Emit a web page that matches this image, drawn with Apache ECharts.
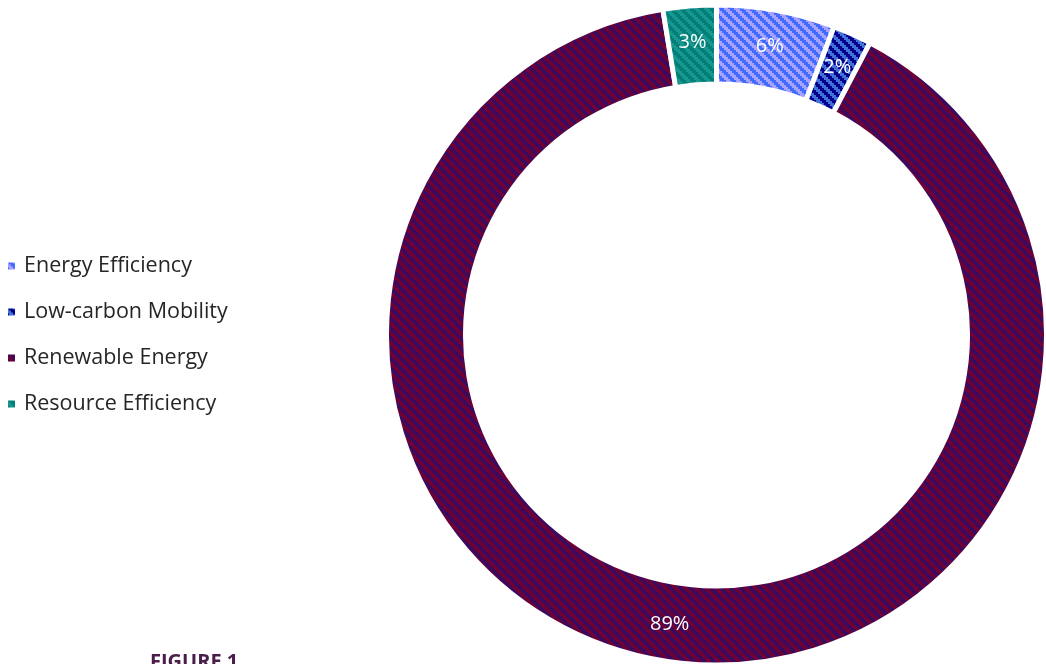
<!DOCTYPE html>
<html>
<head>
<meta charset="utf-8">
<script src="https://cdn.jsdelivr.net/npm/echarts@6/dist/echarts.min.js"></script>
<style>
  html, body { margin: 0; padding: 0; background: #fff; }
  #chart { width: 1046px; height: 664px; }
</style>
</head>
<body>
<div id="chart"></div>
<script>
var categories = ['Energy Efficiency', 'Low-carbon Mobility', 'Renewable Energy', 'Resource Efficiency']
var shares = [5.8, 1.9, 89.7, 2.6]
// percentages as printed on the chart
var shareLabels = ['6%', '2%', '89%', '3%']
// two tones per slice for the striped fill
var tones = [
  ['#3f6cff', '#a7a1ff'],
  ['#00008c', '#4271d8'],
  ['#3a0a5e', '#6e0035'],
  ['#007f78', '#17978e']
]

function stripes(a, b) {
  var c = document.createElement('canvas')
  c.width = 10
  c.height = 10
  var ctx = c.getContext('2d')
  for (var y = 0; y < 10; y++) {
    for (var x = 0; x < 10; x++) {
      var xe = Math.floor(x / 2) * 2
      ctx.fillStyle = ((xe - y + 20) % 10) < 5 ? a : b
      ctx.fillRect(x, y, 1, 1)
    }
  }
  return { image: c, repeat: 'repeat' }
}

var chart = echarts.init(document.getElementById('chart'))
chart.setOption({
  animation: false,
  title: {
    text: 'FIGURE 1',
    left: 145,
    top: 647,
    textStyle: { color: '#4b1d4a', fontSize: 20, fontWeight: 'bold', fontFamily: 'Open Sans' }
  },
  legend: {
    orient: 'vertical',
    left: 1,
    top: 250,
    itemWidth: 9,
    itemHeight: 9,
    itemGap: 24,
    icon: 'rect',
    textStyle: { color: '#262626', fontSize: 21.5, lineHeight: 22, fontFamily: 'Open Sans', padding: [0, 0, 0, 3] },
    data: categories
  },
  series: [{
    type: 'pie',
    center: [716.5, 335],
    radius: [251, 330],
    startAngle: 90,
    clockwise: true,
    itemStyle: { borderColor: '#fff', borderWidth: 5 },
    label: {
      position: 'inside',
      formatter: function(p) { return shareLabels[p.dataIndex] },
      color: '#fff',
      fontSize: 20,
      fontFamily: 'Open Sans',
      padding: [6, 0, 0, 0]
    },
    labelLine: { show: false },
    emphasis: { disabled: true },
    data: categories.map(function(name, i) {
      return {
        name: name,
        value: shares[i],
        itemStyle: { color: stripes(tones[i][0], tones[i][1]) }
      }
    })
  }]
})
</script>
</body>
</html>
